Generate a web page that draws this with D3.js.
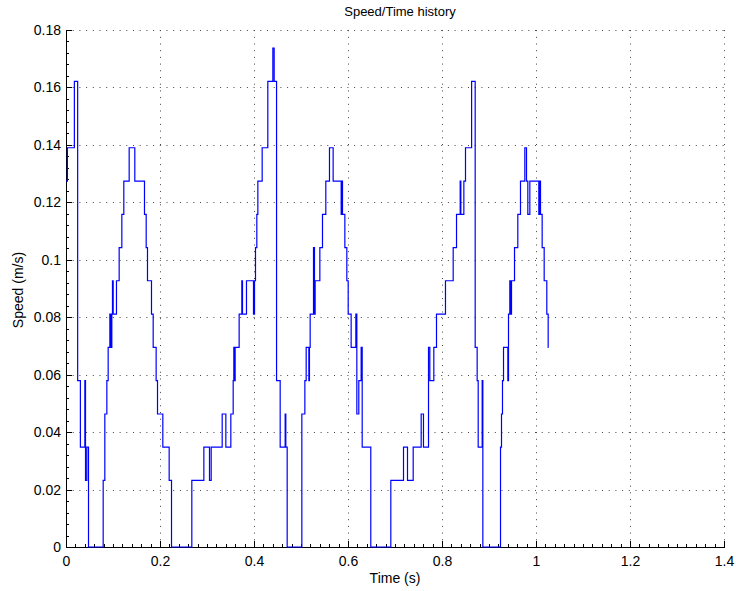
<!DOCTYPE html>
<html>
<head>
<meta charset="utf-8">
<script src="https://cdn.jsdelivr.net/npm/d3@7"></script>
<style>
  html, body { margin:0; padding:0; background:#fff; }
  svg { display:block; font-family:"Liberation Sans", Arial, sans-serif; }
  .grid line { stroke:#444; stroke-width:1; stroke-dasharray:1,5.7; }
  .axis path, .axis line { stroke:#000; shape-rendering:crispEdges; }
  .axis text { font-size:14px; fill:#000; }
</style>
</head>
<body>
<svg id="chart" width="736" height="591"></svg>
<script>
// speed history (step data, value holds until next time)
const time = [
  0.0000, 0.0030, 0.0178, 0.0248, 0.0306, 0.0401, 0.0415, 0.0443, 0.0479, 0.0791,
  0.0826, 0.0869, 0.0897, 0.0933, 0.0954, 0.0975, 0.0989, 0.1004, 0.1074, 0.1131,
  0.1188, 0.1230, 0.1344, 0.1464, 0.1670, 0.1706, 0.1734, 0.1819, 0.1855, 0.1918,
  0.1947, 0.2060, 0.2195, 0.2245, 0.2677, 0.2933, 0.3053, 0.3089, 0.3323, 0.3401,
  0.3507, 0.3557, 0.3571, 0.3585, 0.3599, 0.3684, 0.3741, 0.3755, 0.3840, 0.3989,
  0.4011, 0.4032, 0.4060, 0.4082, 0.4174, 0.4294, 0.4401, 0.4429, 0.4480, 0.4557,
  0.4663, 0.4677, 0.4706, 0.5018, 0.5082, 0.5110, 0.5167, 0.5180, 0.5195, 0.5266,
  0.5287, 0.5301, 0.5401, 0.5457, 0.5528, 0.5606, 0.5684, 0.5855, 0.5869, 0.5883,
  0.5933, 0.5975, 0.6004, 0.6067, 0.6167, 0.6188, 0.6230, 0.6280, 0.6302, 0.6485,
  0.6911, 0.7181, 0.7266, 0.7387, 0.7557, 0.7606, 0.7713, 0.7741, 0.7826, 0.7883,
  0.8074, 0.8238, 0.8309, 0.8387, 0.8401, 0.8465, 0.8500, 0.8630, 0.8706, 0.8748,
  0.8770, 0.8855, 0.8869, 0.9245, 0.9266, 0.9287, 0.9309, 0.9401, 0.9415, 0.9443,
  0.9457, 0.9479, 0.9543, 0.9613, 0.9670, 0.9762, 0.9798, 0.9826, 0.9869, 1.0060,
  1.0074, 1.0096, 1.0131, 1.0174, 1.0230, 1.0259, 1.0266
];
const speed = [
  0.1274, 0.1390, 0.1621, 0.0579, 0.0348, 0.0579, 0.0232, 0.0348, 0,      0.0232,
  0.0463, 0.0579, 0.0695, 0.0811, 0.0695, 0.0811, 0.0927, 0.0811, 0.0927, 0.1042,
  0.1158, 0.1274, 0.1390, 0.1274, 0.1158, 0.1042, 0.0927, 0.0811, 0.0695, 0.0579,
  0.0463, 0.0348, 0.0232, 0,      0.0232, 0.0348, 0.0232, 0.0348, 0.0463, 0.0348,
  0.0463, 0.0579, 0.0695, 0.0579, 0.0695, 0.0811, 0.0927, 0.0811, 0.0927, 0.0811,
  0.0927, 0.1042, 0.1158, 0.1274, 0.1390, 0.1621, 0.1737, 0.1621, 0.0579, 0.0348,
  0.0463, 0.0348, 0,      0.0463, 0.0579, 0.0695, 0.0579, 0.0695, 0.0811, 0.1042,
  0.0811, 0.0927, 0.1042, 0.1158, 0.1274, 0.1390, 0.1274, 0.1158, 0.1274, 0.1158,
  0.1042, 0.0927, 0.0811, 0.0695, 0.0811, 0.0463, 0.0579, 0.0695, 0.0348, 0,
  0.0232, 0.0348, 0.0232, 0.0348, 0.0463, 0.0348, 0.0695, 0.0579, 0.0695, 0.0811,
  0.0927, 0.1042, 0.1158, 0.1274, 0.1158, 0.1274, 0.1390, 0.1621, 0.0695, 0.0579,
  0.0348, 0.0579, 0,      0.0348, 0.0463, 0.0579, 0.0695, 0.0579, 0.0811, 0.0927,
  0.0811, 0.0927, 0.1042, 0.1158, 0.1274, 0.1390, 0.1274, 0.1158, 0.1274, 0.1158,
  0.1274, 0.1158, 0.1042, 0.0927, 0.0811, 0.0695, 0.0695
];
const xTicks = [0, 0.2, 0.4, 0.6, 0.8, 1, 1.2, 1.4];
const yTicks = [0, 0.02, 0.04, 0.06, 0.08, 0.1, 0.12, 0.14, 0.16, 0.18];

const margin = {left:66, right:12, top:30, bottom:44},
      W = 736, H = 591;

const svg = d3.select('#chart');
const x = d3.scaleLinear().domain([0,1.4]).range([margin.left, W-margin.right]);
const y = d3.scaleLinear().domain([0,0.18]).range([H-margin.bottom, margin.top]);

// dotted grid
const grid = svg.append('g').attr('class','grid');
grid.selectAll('line.v').data(xTicks.slice(1)).join('line').attr('class','v')
    .attr('x1',d=>Math.round(x(d))+0.5).attr('x2',d=>Math.round(x(d))+0.5)
    .attr('y1',y(0)).attr('y2',y(0.18));
grid.selectAll('line.h').data(yTicks.slice(1)).join('line').attr('class','h')
    .attr('y1',d=>Math.round(y(d))+0.5).attr('y2',d=>Math.round(y(d))+0.5)
    .attr('x1',x(0)).attr('x2',x(1.4));

// minor ticks
svg.append('g').attr('class','axis')
    .attr('transform',`translate(0,${y(0)})`)
    .call(d3.axisBottom(x).tickValues(d3.range(0,1.401,0.02)).tickSize(-3).tickFormat(''))
    .call(g=>g.select('.domain').remove());
svg.append('g').attr('class','axis')
    .attr('transform',`translate(${x(0)},0)`)
    .call(d3.axisLeft(y).tickValues(d3.range(0,0.1801,0.004)).tickSize(-3).tickFormat(''))
    .call(g=>g.select('.domain').remove());

// major axes, ticks inward
svg.append('g').attr('class','axis')
    .attr('transform',`translate(0,${y(0)})`)
    .call(d3.axisBottom(x).tickValues(xTicks).tickSize(-6).tickSizeOuter(0).tickPadding(9).tickFormat(d3.format('~g')));
svg.append('g').attr('class','axis')
    .attr('transform',`translate(${x(0)},0)`)
    .call(d3.axisLeft(y).tickValues(yTicks).tickSize(-6).tickSizeOuter(0).tickPadding(5).tickFormat(d3.format('~g')));

// the speed trace
const pts = time.map((t,i)=>[t,speed[i]]);
svg.append('path')
    .datum(pts)
    .attr('fill','none')
    .attr('stroke','#0000ff')
    .attr('stroke-width',1.2)
    .attr('d', d3.line().x(d=>x(d[0])).y(d=>y(d[1])).curve(d3.curveStepAfter));

// labels
svg.append('text').attr('x',400).attr('y',16).attr('text-anchor','middle')
    .style('font-size','13px').text('Speed/Time history');
svg.append('text').attr('x',395).attr('y',583).attr('text-anchor','middle')
    .style('font-size','14px').text('Time (s)');
svg.append('text').attr('transform','translate(23,290) rotate(-90)').attr('text-anchor','middle')
    .style('font-size','14px').text('Speed (m/s)');
</script>
</body>
</html>
